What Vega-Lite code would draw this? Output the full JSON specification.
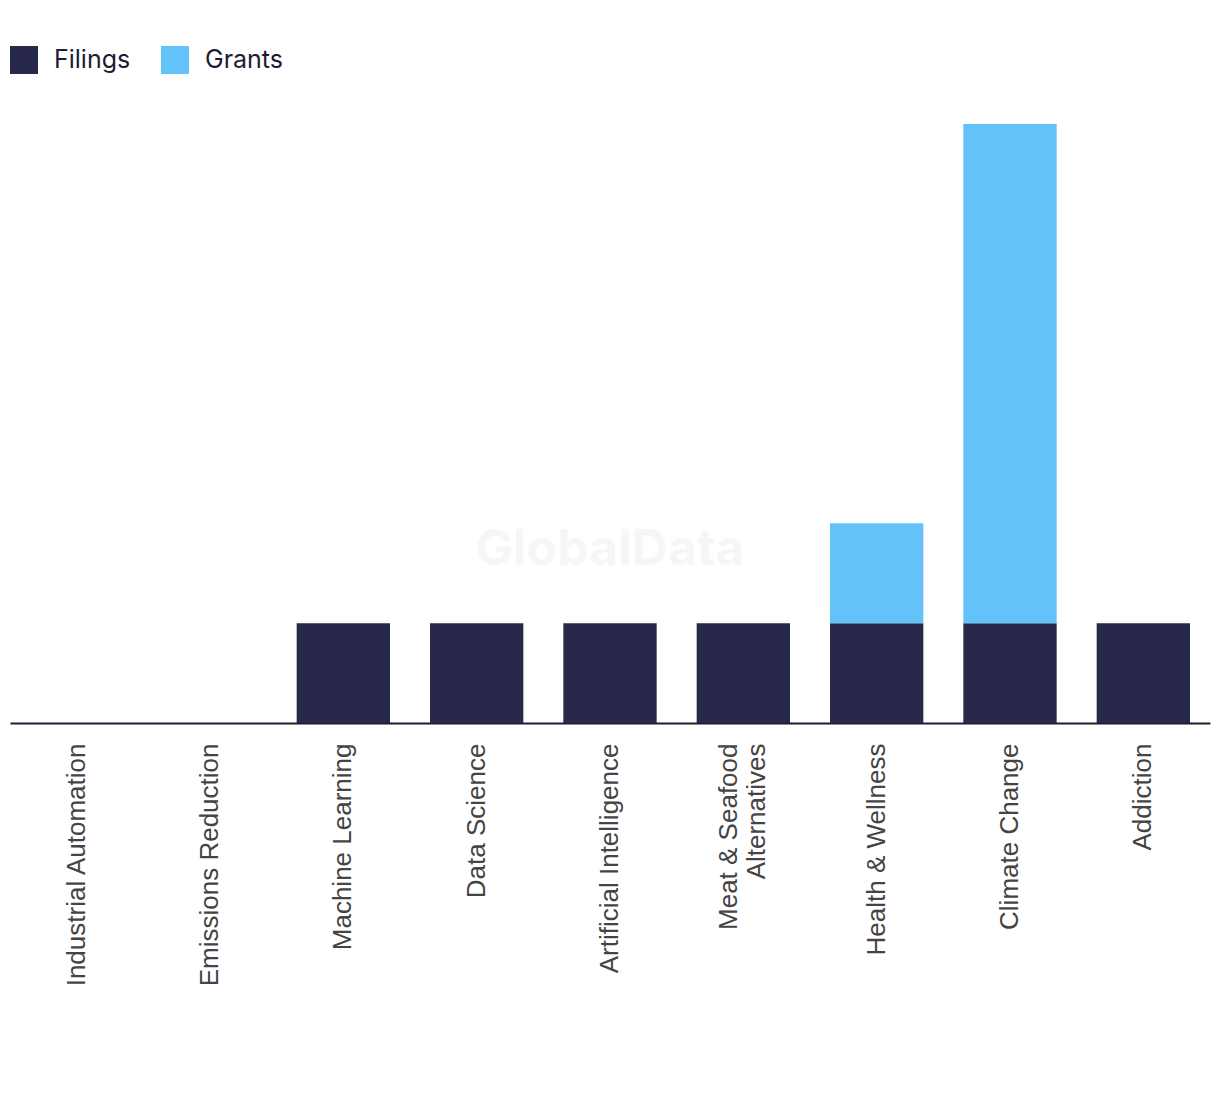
{
  "$schema": "https://vega.github.io/schema/vega-lite/v6.json",
  "width": 1200,
  "height": 599,
  "autosize": {"type": "none"},
  "padding": {"top": 124, "left": 10, "right": 10, "bottom": 371},
  "background": "white",
  "config": {"view": {"stroke": null}},
  "datasets": {
    "bars": [
      {"topic": "Industrial Automation", "type": "Filings", "count": 0},
      {"topic": "Industrial Automation", "type": "Grants", "count": 0},
      {"topic": "Emissions Reduction", "type": "Filings", "count": 0},
      {"topic": "Emissions Reduction", "type": "Grants", "count": 0},
      {"topic": "Machine Learning", "type": "Filings", "count": 1},
      {"topic": "Machine Learning", "type": "Grants", "count": 0},
      {"topic": "Data Science", "type": "Filings", "count": 1},
      {"topic": "Data Science", "type": "Grants", "count": 0},
      {"topic": "Artificial Intelligence", "type": "Filings", "count": 1},
      {"topic": "Artificial Intelligence", "type": "Grants", "count": 0},
      {"topic": "Meat & Seafood Alternatives", "type": "Filings", "count": 1},
      {"topic": "Meat & Seafood Alternatives", "type": "Grants", "count": 0},
      {"topic": "Health & Wellness", "type": "Filings", "count": 1},
      {"topic": "Health & Wellness", "type": "Grants", "count": 1},
      {"topic": "Climate Change", "type": "Filings", "count": 1},
      {"topic": "Climate Change", "type": "Grants", "count": 5},
      {"topic": "Addiction", "type": "Filings", "count": 1},
      {"topic": "Addiction", "type": "Grants", "count": 0}
    ],
    "wm": [{"topic": "Artificial Intelligence", "value": 1.73, "text": "GlobalData"}]
  },
  "layer": [
    {
      "data": {"name": "bars"},
      "transform": [
        {"stack": "count", "groupby": ["topic"], "sort": [{"field": "type", "order": "ascending"}], "as": ["y0", "y1"]}
      ],
      "mark": {"type": "bar"},
      "encoding": {
        "x": {
          "field": "topic", "type": "nominal", "sort": null,
          "scale": {"paddingInner": 0.3, "paddingOuter": 0.15},
          "axis": {
            "title": null, "labelAngle": -90, "labelAlign": "right", "labelBaseline": "middle",
            "labelFont": "Liberation Sans", "labelFontSize": 26, "labelColor": "#444444",
            "labelPadding": 20, "ticks": false, "domainColor": "#1c1c35", "domainWidth": 2,
            "labelLineHeight": 28, "labelLimit": 400,
            "labelOffset": {"condition": {"test": "datum.value == 'Meat & Seafood Alternatives'", "value": -14}, "value": 0},
            "labelExpr": "datum.label == 'Meat & Seafood Alternatives' ? ['Meat & Seafood', 'Alternatives'] : datum.label"
          }
        },
        "y": {
          "field": "y0", "type": "quantitative",
          "scale": {"domain": [0, 6], "nice": false},
          "axis": null
        },
        "y2": {"field": "y1"},
        "color": {
          "field": "type", "type": "nominal",
          "scale": {"domain": ["Filings", "Grants"], "range": ["#28284b", "#63c2f8"]},
          "legend": {
            "title": null, "orient": "none", "legendX": 0, "legendY": -78,
            "direction": "horizontal", "symbolType": "square", "symbolSize": 784,
            "symbolStrokeWidth": 0, "symbolOpacity": 1,
            "labelFont": "Inter", "labelFontSize": 25, "labelColor": "#1c1c35",
            "labelOffset": 16, "columnPadding": 30, "padding": 0
          }
        }
      }
    },
    {
      "data": {"name": "wm"},
      "mark": {"type": "text", "font": "Inter", "fontWeight": "bold", "fontSize": 50, "color": "#f6f6f6", "align": "center", "baseline": "middle"},
      "encoding": {
        "x": {"field": "topic", "type": "nominal", "sort": null},
        "y": {"field": "value", "type": "quantitative"},
        "text": {"field": "text"}
      }
    }
  ]
}
